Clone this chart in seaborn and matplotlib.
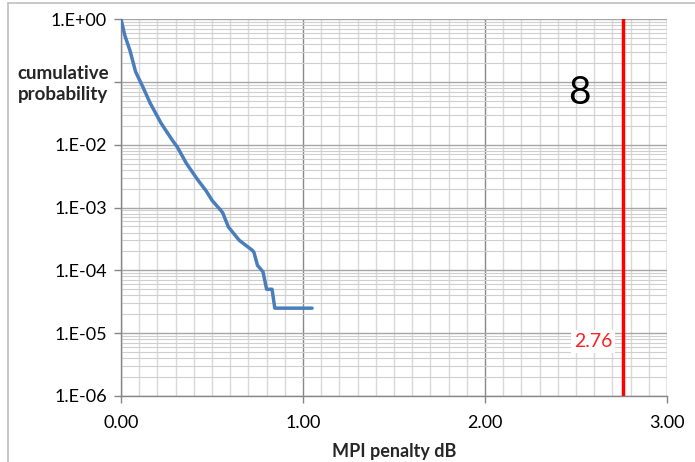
import numpy as np
import pandas as pd
import seaborn as sns
import matplotlib
matplotlib.use("Agg")
import matplotlib.pyplot as plt
from matplotlib.ticker import MultipleLocator, LogLocator, FixedLocator, NullFormatter
from matplotlib.lines import Line2D

penalty_db = [0.0, 0.02, 0.05, 0.08, 0.12, 0.16, 0.22, 0.28, 0.31, 0.36, 0.42, 0.47,
              0.50, 0.55, 0.56, 0.59, 0.65, 0.72, 0.73, 0.75, 0.78, 0.80, 0.83, 0.845, 1.05]
cum_prob = [1.0, 5.6e-1, 3.1e-1, 1.45e-1, 8.3e-2, 4.6e-2, 2.2e-2, 1.2e-2, 9.1e-3, 5.0e-3,
            2.8e-3, 1.8e-3, 1.3e-3, 8.9e-4, 8.1e-4, 4.9e-4, 3.0e-4, 2.1e-4, 1.95e-4,
            1.2e-4, 9.5e-5, 5.0e-5, 5.0e-5, 2.5e-5, 2.5e-5]
limit_db = 2.76
limit_label = "2.76"
corner_label = "8"
y_ticks = [1e0, 1e-1, 1e-2, 1e-3, 1e-4, 1e-5, 1e-6]
y_tick_labels = ["1.E+00", "", "1.E-02", "1.E-03", "1.E-04", "1.E-05", "1.E-06"]
x_ticks = [0, 1, 2, 3]
x_tick_labels = ["0.00", "1.00", "2.00", "3.00"]

df = pd.DataFrame({"penalty": penalty_db, "prob": cum_prob})

sns.set_theme(style="white")
plt.rcParams["font.family"] = ["Lato", "DejaVu Sans"]

fig = plt.figure(figsize=(6.95, 4.62), dpi=100)
ax = fig.add_axes([121/695, 1-396/462, (667-121)/695, (396-19)/462])

sns.lineplot(data=df, x="penalty", y="prob", ax=ax, color="#4a7ebb", linewidth=2.5,
             zorder=5)
ax.set_yscale("log")
ax.set_xlim(0, 3)
ax.set_ylim(1e-6, 1)

ax.xaxis.set_major_locator(FixedLocator(x_ticks))
ax.set_xticklabels(x_tick_labels)
ax.xaxis.set_minor_locator(MultipleLocator(0.1))
ax.yaxis.set_major_locator(FixedLocator(y_ticks))
ax.set_yticklabels(y_tick_labels)
ax.yaxis.set_minor_locator(LogLocator(base=10, subs=np.arange(2, 10), numticks=20))
ax.yaxis.set_minor_formatter(NullFormatter())

ax.grid(which="major", axis="x", color="#888888", linewidth=1.0)
ax.grid(which="minor", axis="x", color="#d9d9d9", linewidth=1.0)
ax.grid(which="major", axis="y", color="#a6a6a6", linewidth=1.0)
ax.grid(which="minor", axis="y", color="#cfcfcf", linewidth=0.8)
ax.set_axisbelow(True)

for s in ["top", "right"]:
    ax.spines[s].set_visible(False)
for s in ["left", "bottom"]:
    ax.spines[s].set_color("#868686")
    ax.spines[s].set_linewidth(1.0)

ax.tick_params(axis="x", which="major", pad=9)
ax.tick_params(axis="y", which="major", pad=5)
ax.tick_params(axis="both", which="major", direction="out", length=5, width=1,
               color="#868686", labelsize=13, labelcolor="black",
               left=True, bottom=True)
ax.tick_params(axis="both", which="minor", length=0)

ax.set_xlabel("MPI penalty dB", fontsize=13, fontweight="bold", labelpad=8)
ax.set_ylabel("")
fig.text(63/695, 1-84/462, "cumulative\nprobability", ha="center", va="center",
         fontsize=13.5, fontweight="bold", linespacing=1.3)

ax.axvline(limit_db, color="#ff0000", linewidth=2.5, zorder=6)
ax.text(2.595, 1e-5 * 10**(-0.13), limit_label, color="#ff2020", fontsize=14,
        ha="center", va="center", zorder=7,
        bbox=dict(facecolor="white", edgecolor="none", pad=2))
ax.text(2.52, 10**(-1.17), corner_label, color="black", fontsize=28,
        ha="center", va="center", zorder=7)

fig.add_artist(Line2D([8/695, 8/695], [0, 1-3/462], transform=fig.transFigure,
                      color="#bfbfbf", linewidth=1.2))
fig.add_artist(Line2D([8/695, 1], [1-3/462, 1-3/462], transform=fig.transFigure,
                      color="#bfbfbf", linewidth=1.2))

fig.savefig("out.png", dpi=100)
